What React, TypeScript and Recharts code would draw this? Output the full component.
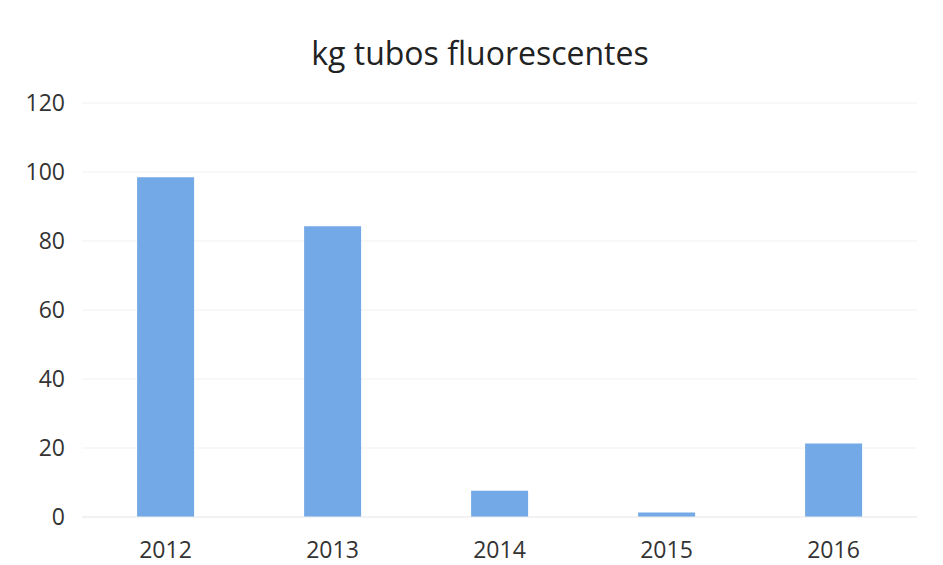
import { BarChart, Bar, XAxis, YAxis, CartesianGrid } from 'recharts'

const years = ['2012', '2013', '2014', '2015', '2016']
const kg = [98.5, 84.3, 7.6, 1.3, 21.3]
const yTicks = [0, 20, 40, 60, 80, 100, 120]

const data = years.map((year, i) => ({ year, kg: kg[i] }))

export default function App() {
  return (
    <div style={{ position: 'absolute', top: 0, left: 0, width: 943, height: 565, background: '#fff', fontFamily: '"Open Sans", sans-serif' }}>
      <div
        style={{
          position: 'absolute',
          top: 31,
          left: 0,
          width: 960,
          textAlign: 'center',
          fontSize: 32,
          color: '#222',
        }}
      >
        kg tubos fluorescentes
      </div>
      <BarChart
        width={943}
        height={565}
        data={data}
        margin={{ top: 103, right: 26, bottom: 0, left: 0 }}
        barCategoryGap="33%"
      >
        <CartesianGrid vertical={false} stroke="#f1f1f1" />
        <XAxis
          dataKey="year"
          height={48}
          tickLine={false}
          tickSize={0}
          tickMargin={25}
          axisLine={{ stroke: '#ececec' }}
          tick={{ fill: '#333', fontSize: 23 }}
        />
        <YAxis
          width={82}
          domain={[0, 120]}
          ticks={yTicks}
          axisLine={false}
          tickLine={false}
          tickSize={0}
          tickMargin={17}
          tick={{ fill: '#333', fontSize: 23 }}
        />
        <Bar dataKey="kg" fill="#73a9e6" isAnimationActive={false} />
      </BarChart>
    </div>
  )
}
